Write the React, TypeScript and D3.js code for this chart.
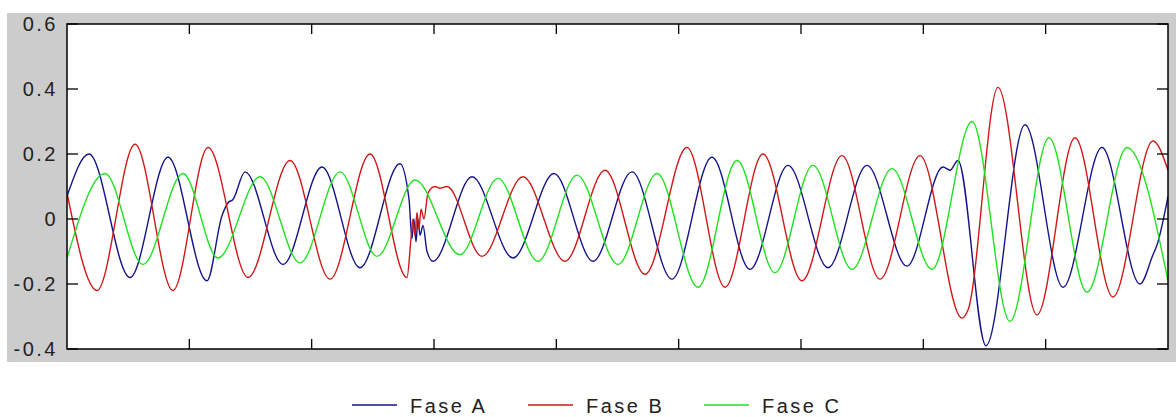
import React from "react";
import * as d3 from "d3";

// x in samples (0..900), y in per-unit
const sampleA = [0, 18, 51.5, 82.6, 114.4, 126.7, 131.6, 135.7, 145.5, 176.6, 208.4, 239.5, 272.2, 279.6, 282, 283.6, 285.3, 286.9, 288.6, 291, 294.3, 299.2, 331.1, 364.6, 398.1, 430, 461.8, 494.5, 527.2, 558.3, 589.4, 622.1, 653.9, 686.6, 716.1, 721.8, 728.3, 751.2, 783.1, 814.2, 846, 877.1, 887.7, 891, 900];
const faseA = [0.07, 0.2, -0.18, 0.19, -0.19, 0.01, 0.05, 0.06, 0.145, -0.14, 0.16, -0.15, 0.17, 0.06, -0.06, 0.0, -0.07, 0.0, -0.05, -0.02, -0.1, -0.13, 0.13, -0.12, 0.14, -0.13, 0.145, -0.185, 0.19, -0.155, 0.165, -0.15, 0.165, -0.145, 0.16, 0.15, 0.18, -0.39, 0.29, -0.21, 0.22, -0.2, -0.11, -0.08, 0.07];

const sampleB = [0, 24.5, 55.6, 86.6, 115.3, 148, 182.3, 215, 247.7, 277.9, 281.2, 282.8, 284.5, 286.1, 287.7, 289.4, 291.8, 295.1, 300.8, 304.9, 310.6, 339.2, 372.7, 407.1, 439.8, 472.5, 506.8, 537.9, 568.9, 600.8, 633.5, 664.6, 697.3, 731.6, 736.5, 761, 792.9, 824, 855, 887.7, 900];
const faseB = [0.08, -0.22, 0.23, -0.22, 0.22, -0.18, 0.18, -0.185, 0.2, -0.18, -0.06, 0.0, -0.05, 0.02, -0.03, 0.03, 0.0, 0.08, 0.1, 0.095, 0.1, -0.115, 0.13, -0.13, 0.15, -0.17, 0.22, -0.21, 0.2, -0.19, 0.195, -0.185, 0.195, -0.305, -0.28, 0.405, -0.295, 0.25, -0.24, 0.24, 0.15];

const sampleC = [0, 31.1, 62.1, 94.8, 123.4, 157.8, 190.5, 223.2, 253.4, 284.5, 321.2, 352.3, 385, 416.9, 450.4, 482.3, 515.8, 547.7, 578.7, 609.8, 641.7, 674.4, 707.1, 739.8, 770.8, 802.7, 833.8, 866.5, 900];
const faseC = [-0.12, 0.14, -0.14, 0.14, -0.12, 0.13, -0.135, 0.145, -0.115, 0.12, -0.11, 0.125, -0.13, 0.135, -0.14, 0.14, -0.21, 0.18, -0.165, 0.165, -0.155, 0.155, -0.155, 0.3, -0.315, 0.25, -0.225, 0.22, -0.19];

const seriesNames = ["Fase A", "Fase B", "Fase C"];
const seriesColors = ["#14148a", "#d01818", "#20e020"];
const xTicks = [100, 200, 300, 400, 500, 600, 700, 800];
const yTicks = [-0.4, -0.2, 0, 0.2, 0.4, 0.6];
const yTickLabels = ["-0.4", "-0.2", "0", "0.2", "0.4", "0.6"];

export default function App() {
  const W = 1176, H = 417;
  const left = 67, right = 1168, top = 24, bottom = 349;
  const x = d3.scaleLinear().domain([0, 900]).range([left, right]);
  const y = d3.scaleLinear().domain([-0.4, 0.6]).range([bottom, top]);
  const line = d3
    .line<[number, number]>()
    .x((d) => x(d[0]))
    .y((d) => y(d[1]))
    .curve(d3.curveMonotoneX);
  const series = [
    sampleA.map((s, i) => [s, faseA[i]] as [number, number]),
    sampleB.map((s, i) => [s, faseB[i]] as [number, number]),
    sampleC.map((s, i) => [s, faseC[i]] as [number, number]),
  ];
  const font = "'Liberation Sans', Arial, sans-serif";
  const legendX = [352, 528, 704];
  return (
    <svg width={W} height={H} style={{ position: "absolute", left: 0, top: 0, background: "#fff" }}>
      <defs>
        <clipPath id="plotclip">
          <rect x={left} y={top} width={right - left} height={bottom - top} />
        </clipPath>
      </defs>
      <rect x={7} y={13} width={W - 7} height={362 - 13} fill="#cccccc" />
      <rect x={left} y={top} width={right - left} height={bottom - top} fill="#fff" />
      <g clipPath="url(#plotclip)">
        {series.map((d, i) => (
          <path key={i} d={line(d) || ""} fill="none" stroke={seriesColors[i]} strokeWidth={1.4} />
        ))}
      </g>
      {xTicks.map((t) => (
        <g key={"x" + t} stroke="#000" strokeWidth={1.3}>
          <line x1={x(t)} x2={x(t)} y1={top} y2={top + 10} />
          <line x1={x(t)} x2={x(t)} y1={bottom} y2={bottom - 10} />
        </g>
      ))}
      {yTicks.map((t) => (
        <g key={"y" + t} stroke="#000" strokeWidth={1.3}>
          <line x1={left} x2={left + 11} y1={y(t)} y2={y(t)} />
          <line x1={right} x2={right - 11} y1={y(t)} y2={y(t)} />
        </g>
      ))}
      <rect x={left} y={top} width={right - left} height={bottom - top} fill="none" stroke="#000" strokeWidth={1.5} />
      {yTicks.map((t, i) => (
        <text
          key={"yl" + t}
          x={58}
          y={y(t)}
          dy="0.36em"
          textAnchor="end"
          fontFamily={font}
          fontSize={20}
          letterSpacing={2.5}
          fill="#222"
        >
          {yTickLabels[i]}
        </text>
      ))}
      {seriesNames.map((n, i) => (
        <g key={n}>
          <line x1={legendX[i]} x2={legendX[i] + 45} y1={405} y2={405} stroke={seriesColors[i]} strokeWidth={1.5} />
          <text x={legendX[i] + 58} y={413} fontFamily={font} fontSize={20} letterSpacing={2.5} fill="#222">
            {n}
          </text>
        </g>
      ))}
    </svg>
  );
}
